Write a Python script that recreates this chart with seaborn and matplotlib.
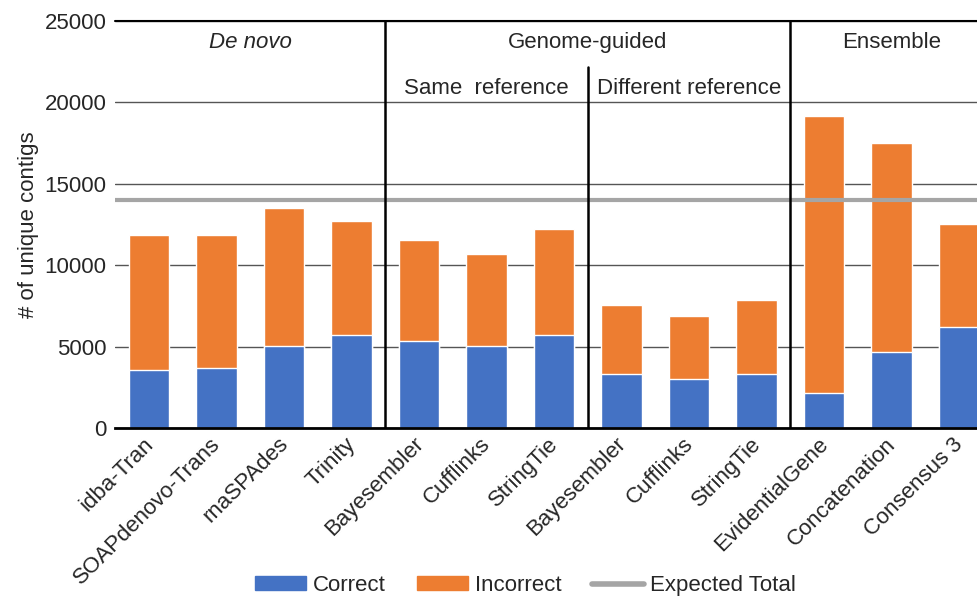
import matplotlib
matplotlib.use("Agg")
import matplotlib.pyplot as plt
import matplotlib.transforms as mtransforms
import pandas as pd
import seaborn as sns
from matplotlib.patches import Patch
from matplotlib.lines import Line2D

# data
assemblers = ["idba-Tran", "SOAPdenovo-Trans", "rnaSPAdes", "Trinity",
              "Bayesembler", "Cufflinks", "StringTie",
              "Bayesembler", "Cufflinks", "StringTie",
              "EvidentialGene", "Concatenation", "Consensus 3"]
groups = ["De novo"] * 4 + ["Same reference"] * 3 + ["Different reference"] * 3 + ["Ensemble"] * 3
correct = [3540, 3680, 5020, 5700, 5350, 5020, 5700, 3330, 3020, 3330, 2180, 4690, 6190]
total = [11850, 11850, 13520, 12700, 11540, 10680, 12200, 7530, 6850, 7860, 19180, 17510, 12510]
expected_total = 14000

df = pd.DataFrame({"assembler": assemblers, "group": groups,
                   "correct": correct, "total": total})
# names repeat across groups, so use a unique key for the x axis
df["key"] = df["group"] + ":" + df["assembler"]

sns.set_style("white")
plt.rcParams["font.family"] = ["Liberation Sans", "DejaVu Sans"]

blue = "#4472C4"
orange = "#ED7D31"
grey = "#A5A5A5"

fig = plt.figure(figsize=(9.77, 5.96), dpi=100)
ax = fig.add_axes([115 / 977, 168 / 596, 877.5 / 977, 407 / 596])

# stacked bars: draw the totals (orange) then the correct part (blue) on top
sns.barplot(data=df, x="key", y="total", order=df["key"], color=orange,
            width=0.6, saturation=1, ax=ax)
sns.barplot(data=df, x="key", y="correct", order=df["key"], color=blue,
            width=0.6, saturation=1, ax=ax)

ax.set_ylim(0, 25000)
ax.set_xlim(-0.5, len(df) - 0.5)
ax.set_yticks([0, 5000, 10000, 15000, 20000, 25000])
ax.yaxis.grid(True, color="#555555", linewidth=1)
ax.set_axisbelow(True)
ax.tick_params(axis="y", labelsize=16, length=0, pad=6)
ax.tick_params(axis="x", length=0, pad=4)
ax.set_xticks(range(len(df)))
ax.set_xticklabels(df["assembler"], rotation=45, ha="right",
                   rotation_mode="anchor", fontsize=16)
shift = mtransforms.ScaledTranslation(-6 / 100, 0, fig.dpi_scale_trans)
for lab in ax.get_xticklabels():
    lab.set_transform(lab.get_transform() + shift)
ax.set_xlabel("")
ax.set_ylabel("# of unique contigs", fontsize=16, labelpad=4)

for s in ["top", "right", "left"]:
    ax.spines[s].set_visible(False)
ax.spines["bottom"].set_color("black")
ax.spines["bottom"].set_linewidth(2)
ax.axhline(25000, color="black", linewidth=1.5, clip_on=False)

# expected total line
ax.axhline(expected_total, color=grey, linewidth=3, zorder=1.5)

# group dividers
ax.axvline(3.5, color="black", linewidth=1.8)
ax.axvline(9.5, color="black", linewidth=1.8)
ax.axvline(6.5, ymax=0.888, color="black", linewidth=1.8)

# group headings
ax.text(1.5, 23650, "De novo", style="italic", ha="center", va="center", fontsize=16)
ax.text(6.5, 23650, "Genome-guided", ha="center", va="center", fontsize=16)
ax.text(11.0, 23650, "Ensemble", ha="center", va="center", fontsize=16)
ax.text(5.0, 20880, "Same  reference", ha="center", va="center", fontsize=16)
ax.text(8.0, 20880, "Different reference", ha="center", va="center", fontsize=16)

handles = [Patch(color=blue, label="Correct"),
           Patch(color=orange, label="Incorrect"),
           Line2D([], [], color=grey, linewidth=4, label="Expected Total")]
fig.legend(handles=handles, loc="lower center", ncol=3, frameon=False,
           bbox_to_anchor=(0.538, -0.034), fontsize=16, handlelength=2.3,
           handleheight=0.6, columnspacing=1.4, handletextpad=0.3)

fig.savefig("out.png", dpi=100)
